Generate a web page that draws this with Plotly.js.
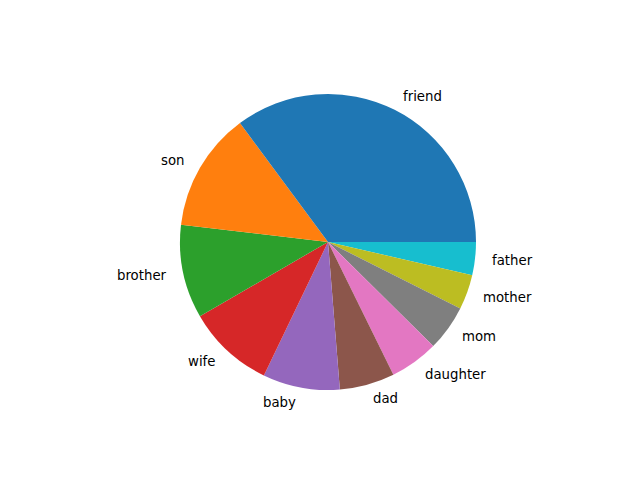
<!DOCTYPE html>
<html>
<head>
<meta charset="utf-8">
<script src="https://cdn.plot.ly/plotly-3.0.1.min.js"></script>
<style>html,body{margin:0;padding:0;background:#fff;}#chart{width:640px;height:480px;}</style>
</head>
<body>
<div id="chart"></div>
<script>
var labels = ["friend","son","brother","wife","baby","dad","daughter","mom","mother","father"];
var values = [35.1, 13.0, 10.2, 9.5, 8.4, 6.0, 5.3, 5.0, 3.8, 3.6];
var colors = ["#1f77b4","#ff7f0e","#2ca02c","#d62728","#9467bd","#8c564b","#e377c2","#7f7f7f","#bcbd22","#17becf"];

var W = 640, H = 480;
var cx = 328, cy = 242, r = 148;
var dom = {x:[(cx-r)/W,(cx+r)/W], y:[1-(cy+r)/H, 1-(cy-r)/H]};

var total = values.reduce(function(a,b){return a+b;},0);
var annotations = [];
var cum = 0;
for (var i=0;i<values.length;i++){
  var mid = (cum + values[i]/2)/total*2*Math.PI;
  cum += values[i];
  var lx = cx + 1.1*r*Math.cos(mid);
  var ly = cy - 1.1*r*Math.sin(mid);
  annotations.push({
    x: lx/W, y: 1-ly/H, xref:'paper', yref:'paper',
    text: labels[i], showarrow:false,
    xanchor: Math.cos(mid) >= 0 ? 'left' : 'right', yanchor:'middle',
    font:{family:'DejaVu Sans', size:13.3, color:'#000'}
  });
}

// matplotlib draws counterclockwise from 3 o'clock; same picture = reversed order drawn clockwise
var data = [{
  type:'pie', labels:labels.slice().reverse(), values:values.slice().reverse(), sort:false,
  direction:'clockwise', rotation:90,
  marker:{colors:colors.slice().reverse(), line:{width:0}},
  textinfo:'none', hoverinfo:'none', domain:dom, showlegend:false
}];
var layout = {
  width:W, height:H, margin:{l:0,r:0,t:0,b:0},
  paper_bgcolor:'#fff', plot_bgcolor:'#fff',
  annotations:annotations, showlegend:false
};
Plotly.newPlot('chart', data, layout, {staticPlot:true});
</script>
</body>
</html>
